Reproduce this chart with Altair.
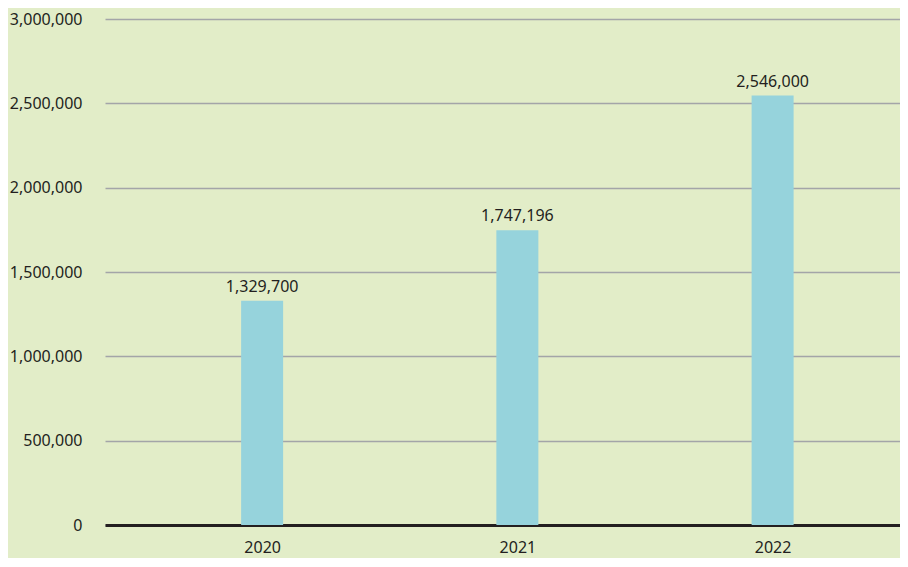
import altair as alt
import pandas as pd

years = [2020, 2021, 2022]
values = [1329700, 1747196, 2546000]
labels = ["1,329,700", "1,747,196", "2,546,000"]

df = pd.DataFrame({"year": years, "value": values, "label": labels})

FONT = "Noto Sans"
TXT = "#231f20"

x = alt.X(
    "year:Q",
    scale=alt.Scale(domain=[2019.404, 2022.4795], zero=False, nice=False),
    axis=alt.Axis(
        values=years, format="d", title=None, grid=False, ticks=False,
        domainColor="#231f20", domainWidth=3, labelPadding=14,
        labelFont=FONT, labelFontSize=16, labelColor=TXT,
    ),
)
y = alt.Y(
    "value:Q",
    scale=alt.Scale(domain=[0, 3000000], nice=False),
    axis=alt.Axis(
        values=[0, 500000, 1000000, 1500000, 2000000, 2500000, 3000000],
        format=",d", title=None, ticks=False, domain=False,
        gridColor="#a3a5a8", gridWidth=1.5, labelPadding=23,
        labelFont=FONT, labelFontSize=16, labelColor=TXT,
    ),
)

bars = alt.Chart(df).mark_bar(size=42, color="#96d3dc").encode(x=x, y=y)
text = alt.Chart(df).mark_text(
    baseline="bottom", dy=-6, font=FONT, fontSize=16, color=TXT
).encode(x="year:Q", y="value:Q", text="label:N")

chart = (bars + text).properties(
    width=795, height=506, background="#e2edc8",
    padding={"left": 1, "top": 3, "right": 0, "bottom": 3},
).configure_view(stroke=None)

chart.save("out.html", embed_options={"renderer": "svg", "actions": False})
